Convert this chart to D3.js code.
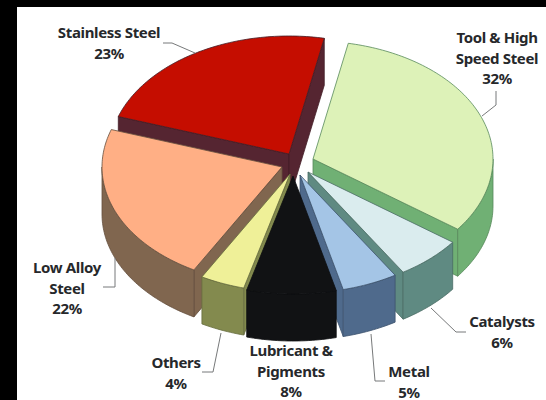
<!DOCTYPE html>
<html>
<head>
<meta charset="utf-8">
<script src="https://cdn.jsdelivr.net/npm/d3@7"></script>
<style>
html,body{margin:0;padding:0;background:#000;}
svg{display:block;}
text{font-family:"Noto Sans",sans-serif;font-weight:700;font-size:15px;letter-spacing:-0.35px;fill:#26282b;text-anchor:middle;}
</style>
</head>
<body>
<svg id="chart" width="546" height="400"></svg>
<script>
// Consumption shares, clockwise from the Tool & High Speed Steel wedge
const categories = ["Tool & High Speed Steel","Catalysts","Metal","Lubricant & Pigments","Others","Low Alloy Steel","Stainless Steel"];
const shares = [32, 6, 5, 8, 4, 22, 23];
const topColours = ["#ddf2b8","#daecee","#a4c5e6","#111214","#eff098","#ffaf85","#c50d00"];
const sideColours = ["#70b074","#5f8a82","#4f6a8c","#111214","#838a4e","#80664f","#552531"];

// Wedge tips after explosion, in the order of the categories
const tipX = [313, 308, 300, 293, 290, 282, 289];
const tipY = [159, 172, 175, 176, 174, 167, 154];
// Order in which wedges are painted, back to front
const paintOrder = [6, 0, 5, 1, 2, 4, 3];

const labelLines = [
  ["Tool & High","Speed Steel","32%"],["Catalysts","6%"],["Metal","5%"],
  ["Lubricant &","Pigments","8%"],["Others","4%"],["Low Alloy","Steel","22%"],["Stainless Steel","23%"]
];
const labelX = [497, 502, 409, 291, 176, 67, 109];
const labelY = [38, 322, 372, 351, 363, 268, 33];
const leaders = [
  [[496,91],[496,105],[482,116]],
  [[466,332],[456,332],[431,308]],
  [[385,381],[375,381],[371,334]],
  [],
  [[202,372],[213,372],[221,333]],
  [[103,287],[115,287],[115,258]],
  [[163,43],[172,43],[195,53]]
];

const rx = 180, ry = 118, depth = 47;
const startAngle = 11.3 * Math.PI / 180;

const svg = d3.select("#chart");
svg.append("rect").attr("x",17).attr("y",7).attr("width",529).attr("height",393).attr("fill","#fff");

const arcs = d3.pie().sort(null).startAngle(startAngle).endAngle(startAngle + 2*Math.PI)(shares);
const line = d3.line();

// Projection of a rim point on the tilted disc
const rim = (i, a, z = 0) => [tipX[i] + rx*Math.sin(a), tipY[i] - ry*Math.cos(a) + z];
const sweep = (i, a0, a1, z = 0) => {
  const n = Math.max(2, Math.ceil(Math.abs(a1-a0)/0.02));
  return d3.range(n+1).map(k => rim(i, a0 + (a1-a0)*k/n, z));
};

paintOrder.forEach(i => {
  const {startAngle:a0, endAngle:a1} = arcs[i];
  const g = svg.append("g");
  const tip = [tipX[i], tipY[i]], tipLow = [tipX[i], tipY[i]+depth];
  // Outlines follow each wedge's own side colour, so the black wedge shows no seams
  const edge = d3.color(sideColours[i]).darker(0.7).formatHex();
  const face = pts => g.append("path").attr("d", line(pts)+"Z")
    .attr("fill", sideColours[i]).attr("stroke", edge).attr("stroke-width", 0.8).attr("stroke-linejoin","round");

  // Radial cut faces, only where they turn towards the viewer
  if (Math.cos(a0 - Math.PI/2) < 0) face([tip, rim(i,a0), rim(i,a0,depth), tipLow]);
  if (Math.cos(a1 + Math.PI/2) < 0) face([tip, rim(i,a1), rim(i,a1,depth), tipLow]);

  // Outer wall: the part of the rim on the near half of the disc
  const w0 = Math.max(a0, Math.PI/2), w1 = Math.min(a1, 3*Math.PI/2);
  if (w1 > w0) face([...sweep(i,w0,w1), ...sweep(i,w1,w0,depth)]);

  // Top surface
  g.append("path").attr("d", line([tip, ...sweep(i,a0,a1)])+"Z")
    .attr("fill", topColours[i]).attr("stroke", edge).attr("stroke-width", 0.8).attr("stroke-linejoin","round");
});

leaders.forEach(pts => {
  if (pts.length) svg.append("path").attr("d", line(pts)).attr("fill","none").attr("stroke","#77797a").attr("stroke-width",1);
});

labelLines.forEach((lines,i) => {
  const t = svg.append("text").attr("aria-label", categories[i]);
  lines.forEach((s,k) => t.append("tspan").attr("x",labelX[i]).attr("y",labelY[i]+k*20.5+5).text(s));
});
</script>
</body>
</html>
